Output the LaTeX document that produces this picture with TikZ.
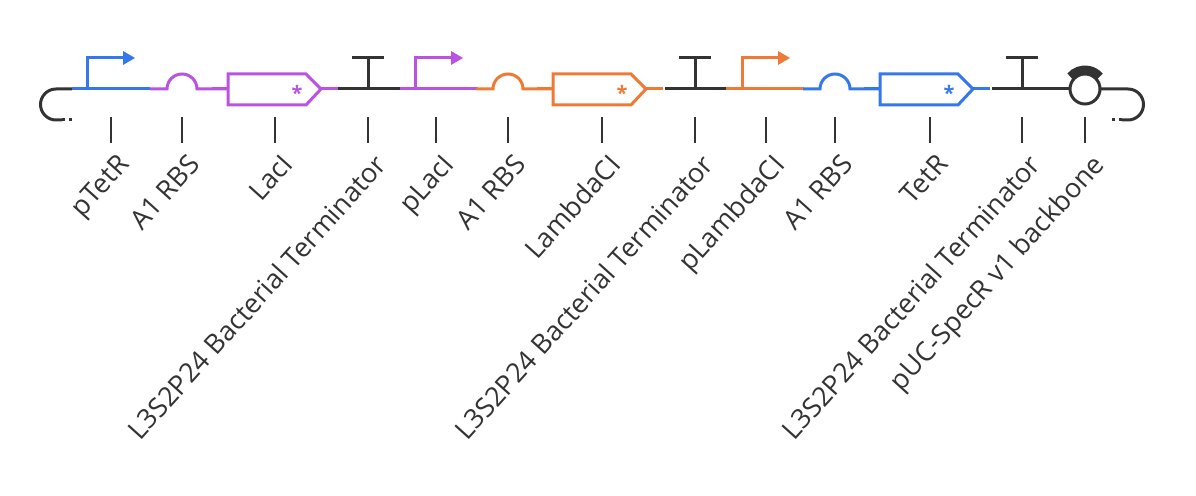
\documentclass[tikz,border=0pt]{standalone}
\usepackage{fontspec}
\setmainfont{Open Sans}
\definecolor{partblue}{HTML}{3478EC}
\definecolor{partpurple}{HTML}{BA52E2}
\definecolor{partorange}{HTML}{EE7A36}
\definecolor{partgray}{HTML}{333333}
\tikzset{
  bb/.style={line width=1.5pt},
  tick/.style={partgray,line width=0.8pt},
  lbl/.style={anchor=north east,rotate=48,inner sep=0pt,font=\fontsize{13.5}{15}\selectfont,text=partgray},
}
\newcommand{\promoter}[3]{% start, stem, colour
  \draw[bb,#3] (#1,89) -- ++(78,0);
  \draw[bb,#3] (#2,89) -- (#2,58) -- ++(38,0);
  \fill[#3] (#2+36,51) -- (#2+48,58) -- (#2+36,65) -- cycle;}
\newcommand{\rbs}[2]{%
  \draw[bb,#2] (#1-32,89) -- (#1-15,89) arc (180:360:15) -- (#1+45,89);}
\newcommand{\cds}[2]{%
  \draw[bb,#2] (#1-16,89) -- (#1,89);
  \draw[bb,#2,fill=white] (#1,74) -- (#1+78,74) -- (#1+93,89) -- (#1+78,105) -- (#1,105) -- cycle;
  \draw[bb,#2] (#1+93,89) -- (#1+110,89);
  \node[#2,font=\bfseries,inner sep=0pt] at (#1+69,93) {*};}
\newcommand{\term}[1]{%
  \draw[bb,partgray] (#1-30,89) -- (#1+32,89);
  \draw[bb,partgray] (#1,89) -- (#1,58);
  \draw[bb,partgray] (#1-16,58) -- (#1+16,58);}
\begin{document}
\begin{tikzpicture}[x=0.5pt,y=-0.5pt]
  \useasboundingbox (0,0) rectangle (1196,496);
  % caps
  \draw[bb,partgray] (72,89) -- (56,89) arc (270:90:15.5) -- (62,120);
  \draw[bb,partgray,dotted] (62,120) -- (74,120);
  \draw[bb,partgray] (1100,89) -- (1128,89) arc (270:450:15.5) -- (1122,120);
  \draw[bb,partgray,dotted] (1122,120) -- (1110,120);
  % parts
  \promoter{72}{87}{partblue}
  \rbs{182}{partpurple}
  \cds{228}{partpurple}
  \term{368}
  \promoter{400}{415}{partpurple}
  \rbs{508}{partorange}
  \cds{553}{partorange}
  \term{695}
  \promoter{726}{742}{partorange}
  \rbs{835}{partblue}
  \cds{880}{partblue}
  \term{1022}
  % backbone
  \draw[bb,partgray] (1052,89) -- (1070,89);
  \draw[bb,partgray] (1085,89) circle (15);
  \draw[partgray,line width=4pt] (1085,89) ++(220:19.5) arc (220:320:19.5);
  % labels
  \foreach \x/\t in {111/pTetR,182/A1 RBS,275/LacI,368/L3S2P24 Bacterial Terminator,
      436/pLacI,508/A1 RBS,602/LambdaCI,695/L3S2P24 Bacterial Terminator,
      766/pLambdaCI,835/A1 RBS,930/TetR,1022/L3S2P24 Bacterial Terminator,
      1085/pUC-SpecR v1 backbone} {
    \draw[tick] (\x,117) -- (\x,143);
    \node[lbl] at (\x+5,152) {\t};
  }
\end{tikzpicture}
\end{document}
